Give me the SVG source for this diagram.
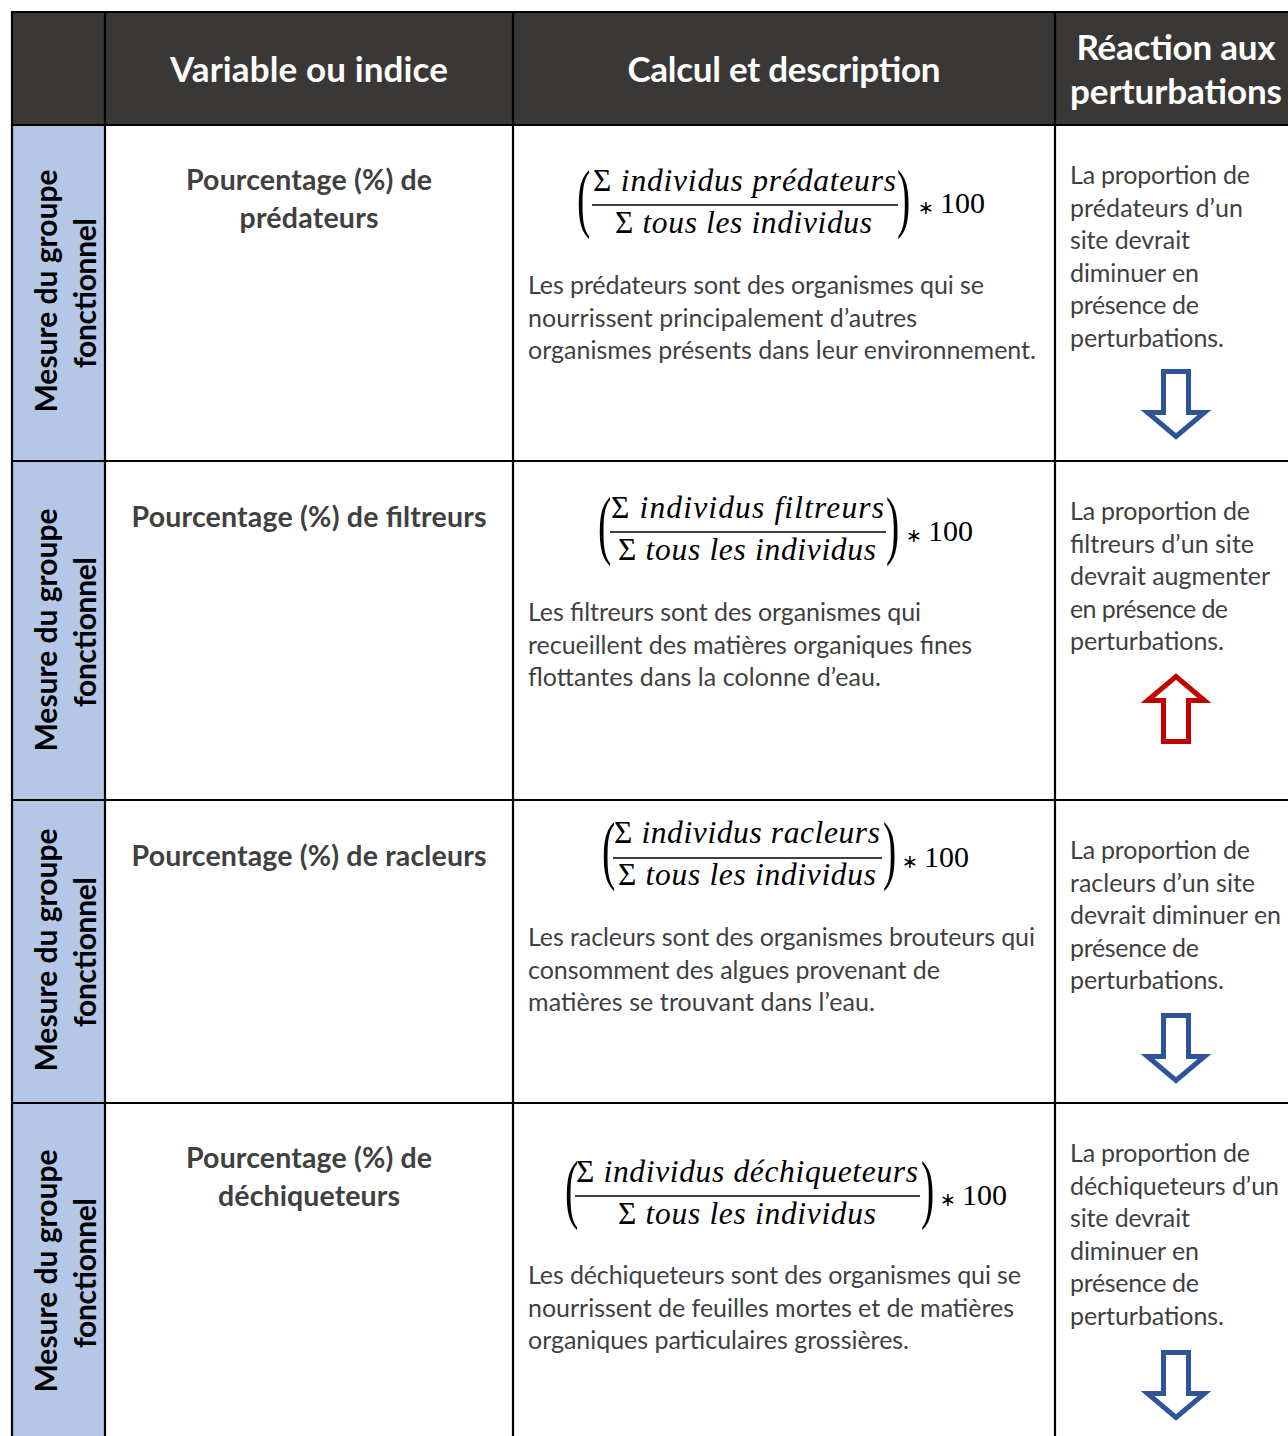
<svg xmlns="http://www.w3.org/2000/svg" width="1288" height="1436" viewBox="0 0 1288 1436">
<style>
.hdr{font-family:Lato,"Open Sans",sans-serif;font-weight:bold;font-size:35px;fill:#ffffff;text-anchor:middle}
.vt{font-family:Lato,"Open Sans",sans-serif;font-weight:bold;font-size:30px;fill:#000000;text-anchor:middle}
.ttl{font-family:Lato,"Open Sans",sans-serif;font-weight:bold;font-size:28.5px;fill:#404040;text-anchor:middle}
.bd{font-family:Lato,"Open Sans",sans-serif;font-size:25px;fill:#3f3f3f}
.mth{font-family:"Liberation Serif","Times New Roman",serif;font-style:italic;font-size:31.5px;fill:#000000}
.up{font-style:normal}
.num{font-family:"Liberation Serif","Times New Roman",serif;font-size:30px;fill:#000000}
.ast{font-family:"DejaVu Sans",sans-serif;font-size:19px;fill:#000000}
.par{font-family:"Liberation Serif","Times New Roman",serif;font-size:40px;fill:#000000}
.fl{stroke:#000000;stroke-width:1.6}
.grid line{stroke:#000000;stroke-width:2.2}
.dn{fill:#ffffff;stroke:#2f5597;stroke-width:5;stroke-linejoin:miter;stroke-miterlimit:10}
.upa{fill:#ffffff;stroke:#c00000;stroke-width:5;stroke-linejoin:miter;stroke-miterlimit:10}
</style>
<defs>
<path id="arr" d="M-12.5,2.5 L12.5,2.5 L12.5,43.5 L28.5,43.5 L0,67.5 L-28.5,43.5 L-12.5,43.5 Z"/>
</defs>
<rect x="0" y="0" width="1288" height="1436" fill="#ffffff"/>
<g id="header">
<rect x="12" y="12" width="1290" height="113" fill="#3a3836"/>
<text class="hdr" x="309" y="82" textLength="278">Variable ou indice</text>
<text class="hdr" x="784" y="82" textLength="313">Calcul et description</text>
<text class="hdr" x="1176" y="60" textLength="199">Réaction aux</text>
<text class="hdr" x="1176" y="104" textLength="212">perturbations</text>
</g>
<rect x="12" y="125" width="93" height="1320" fill="#b4c7e7"/>

<g id="grid" class="grid">
<line x1="12" y1="12" x2="1300" y2="12"/>
<line x1="12" y1="125" x2="1300" y2="125"/>
<line x1="12" y1="461" x2="1300" y2="461"/>
<line x1="12" y1="800" x2="1300" y2="800"/>
<line x1="12" y1="1103" x2="1300" y2="1103"/>
<line x1="12" y1="11" x2="12" y2="1440"/>
<line x1="105" y1="12" x2="105" y2="1440"/>
<line x1="513" y1="12" x2="513" y2="1440"/>
<line x1="1055" y1="12" x2="1055" y2="1440"/>
</g>

<g id="row1">
<g id="row1-label">
<text class="vt" transform="translate(57,291) rotate(-90)" textLength="243">Mesure du groupe</text>
<text class="vt" transform="translate(96,293) rotate(-90)" textLength="150">fonctionnel</text>
</g>
<g id="row1-variable">
<text class="ttl" x="309" y="190" textLength="246">Pourcentage (%) de</text>
<text class="ttl" x="309" y="228" textLength="139">prédateurs</text>
</g>
<g id="row1-calc">
<text class="par" transform="translate(577,222.5) scale(1,1.9)">(</text>
<text class="mth" x="593" y="191" textLength="303"><tspan class="up">Σ</tspan> individus prédateurs</text>
<line class="fl" x1="592" y1="205" x2="898" y2="205"/>
<text class="mth" x="615" y="233" textLength="257"><tspan class="up">Σ</tspan> tous les individus</text>
<text class="par" transform="translate(897,222.5) scale(1,1.9)">)</text>
<text class="ast" x="918" y="214">∗</text>
<text class="num" x="940" y="213">100</text>
<text class="bd" x="528" y="294" textLength="456">Les prédateurs sont des organismes qui se</text>
<text class="bd" x="528" y="326.5" textLength="389">nourrissent principalement d’autres</text>
<text class="bd" x="528" y="359" textLength="508">organismes présents dans leur environnement.</text>
</g>
<g id="row1-reaction">
<text class="bd" x="1070" y="184" textLength="180">La proportion de</text>
<text class="bd" x="1070" y="216.5" textLength="173">prédateurs d’un</text>
<text class="bd" x="1070" y="249" textLength="120">site devrait</text>
<text class="bd" x="1070" y="281.5" textLength="129">diminuer en</text>
<text class="bd" x="1070" y="314" textLength="129">présence de</text>
<text class="bd" x="1070" y="346.5" textLength="154">perturbations.</text>
<use href="#arr" class="dn" transform="translate(1176,369)"/>
</g>
</g>

<g id="row2">
<g id="row2-label">
<text class="vt" transform="translate(57,630) rotate(-90)" textLength="243">Mesure du groupe</text>
<text class="vt" transform="translate(96,632) rotate(-90)" textLength="150">fonctionnel</text>
</g>
<g id="row2-variable">
<text class="ttl" x="309" y="527" textLength="355">Pourcentage (%) de filtreurs</text>
</g>
<g id="row2-calc">
<text class="par" transform="translate(598,549.5) scale(1,1.9)">(</text>
<text class="mth" x="611" y="518" textLength="273"><tspan class="up">Σ</tspan> individus filtreurs</text>
<line class="fl" x1="610" y1="532" x2="886" y2="532"/>
<text class="mth" x="618" y="560" textLength="258"><tspan class="up">Σ</tspan> tous les individus</text>
<text class="par" transform="translate(886,549.5) scale(1,1.9)">)</text>
<text class="ast" x="906" y="542">∗</text>
<text class="num" x="928" y="541">100</text>
<text class="bd" x="528" y="621" textLength="393">Les filtreurs sont des organismes qui</text>
<text class="bd" x="528" y="653.5" textLength="444">recueillent des matières organiques fines</text>
<text class="bd" x="528" y="686" textLength="353">flottantes dans la colonne d’eau.</text>
</g>
<g id="row2-reaction">
<text class="bd" x="1070" y="520" textLength="180">La proportion de</text>
<text class="bd" x="1070" y="552.5" textLength="184">filtreurs d’un site</text>
<text class="bd" x="1070" y="585" textLength="200">devrait augmenter</text>
<text class="bd" x="1070" y="617.5" textLength="158">en présence de</text>
<text class="bd" x="1070" y="650" textLength="154">perturbations.</text>
<use href="#arr" class="upa" transform="translate(1176,744) scale(1,-1)"/>
</g>
</g>

<g id="row3">
<g id="row3-label">
<text class="vt" transform="translate(57,950) rotate(-90)" textLength="243">Mesure du groupe</text>
<text class="vt" transform="translate(96,952) rotate(-90)" textLength="150">fonctionnel</text>
</g>
<g id="row3-variable">
<text class="ttl" x="309" y="866" textLength="355">Pourcentage (%) de racleurs</text>
</g>
<g id="row3-calc">
<text class="par" transform="translate(602,874.5) scale(1,1.9)">(</text>
<text class="mth" x="614" y="843" textLength="266"><tspan class="up">Σ</tspan> individus racleurs</text>
<line class="fl" x1="613" y1="858" x2="882" y2="858"/>
<text class="mth" x="618" y="885" textLength="258"><tspan class="up">Σ</tspan> tous les individus</text>
<text class="par" transform="translate(883,874.5) scale(1,1.9)">)</text>
<text class="ast" x="902" y="868">∗</text>
<text class="num" x="924" y="867">100</text>
<text class="bd" x="528" y="946" textLength="507">Les racleurs sont des organismes brouteurs qui</text>
<text class="bd" x="528" y="978.5" textLength="412">consomment des algues provenant de</text>
<text class="bd" x="528" y="1011" textLength="347">matières se trouvant dans l’eau.</text>
</g>
<g id="row3-reaction">
<text class="bd" x="1070" y="859" textLength="180">La proportion de</text>
<text class="bd" x="1070" y="891.5" textLength="185">racleurs d’un site</text>
<text class="bd" x="1070" y="924" textLength="211">devrait diminuer en</text>
<text class="bd" x="1070" y="956.5" textLength="129">présence de</text>
<text class="bd" x="1070" y="989" textLength="154">perturbations.</text>
<use href="#arr" class="dn" transform="translate(1176,1013)"/>
</g>
</g>

<g id="row4">
<g id="row4-label">
<text class="vt" transform="translate(57,1271) rotate(-90)" textLength="243">Mesure du groupe</text>
<text class="vt" transform="translate(96,1273) rotate(-90)" textLength="150">fonctionnel</text>
</g>
<g id="row4-variable">
<text class="ttl" x="309" y="1168" textLength="246">Pourcentage (%) de</text>
<text class="ttl" x="309" y="1206" textLength="182">déchiqueteurs</text>
</g>
<g id="row4-calc">
<text class="par" transform="translate(565,1213.5) scale(1,1.9)">(</text>
<text class="mth" x="576" y="1182" textLength="342"><tspan class="up">Σ</tspan> individus déchiqueteurs</text>
<line class="fl" x1="575" y1="1196" x2="920" y2="1196"/>
<text class="mth" x="618" y="1224" textLength="258"><tspan class="up">Σ</tspan> tous les individus</text>
<text class="par" transform="translate(921,1213.5) scale(1,1.9)">)</text>
<text class="ast" x="940" y="1206">∗</text>
<text class="num" x="962" y="1205">100</text>
<text class="bd" x="528" y="1284" textLength="493">Les déchiqueteurs sont des organismes qui se</text>
<text class="bd" x="528" y="1316.5" textLength="486">nourrissent de feuilles mortes et de matières</text>
<text class="bd" x="528" y="1349" textLength="381">organiques particulaires grossières.</text>
</g>
<g id="row4-reaction">
<text class="bd" x="1070" y="1162" textLength="180">La proportion de</text>
<text class="bd" x="1070" y="1194.5" textLength="209">déchiqueteurs d’un</text>
<text class="bd" x="1070" y="1227" textLength="120">site devrait</text>
<text class="bd" x="1070" y="1259.5" textLength="129">diminuer en</text>
<text class="bd" x="1070" y="1292" textLength="129">présence de</text>
<text class="bd" x="1070" y="1324.5" textLength="154">perturbations.</text>
<use href="#arr" class="dn" transform="translate(1176,1350)"/>
</g>
</g>
</svg>
